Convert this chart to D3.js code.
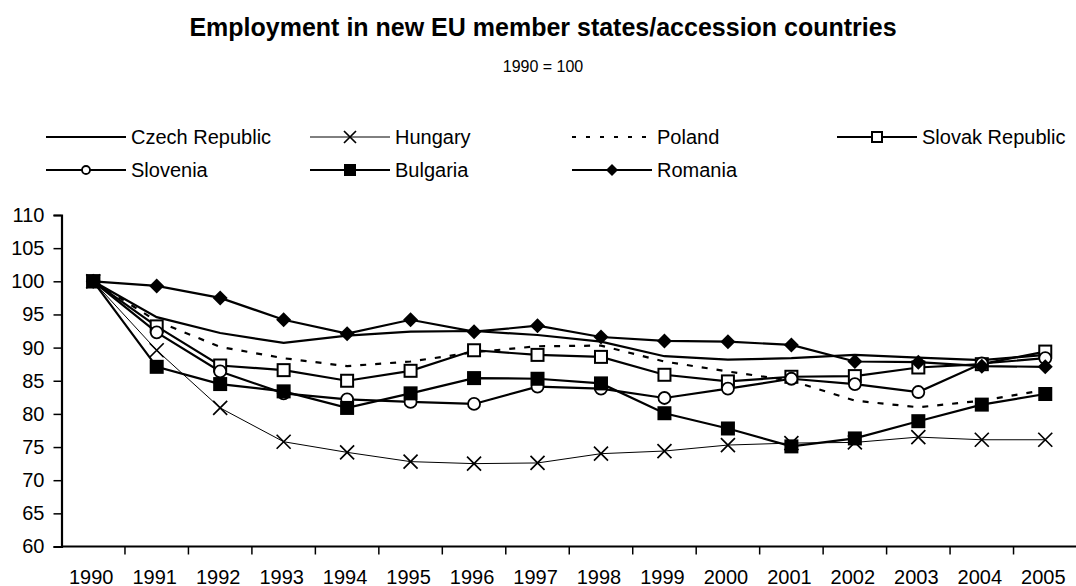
<!DOCTYPE html>
<html>
<head>
<meta charset="utf-8">
<script src="https://cdn.jsdelivr.net/npm/d3@7"></script>
<style>
  body { margin: 0; background: #fff; }
  svg { display: block; font-family: Arial, "Liberation Sans", sans-serif; }
</style>
</head>
<body>
<div id="chart"></div>
<script>
// 数据
var years = [1990, 1991, 1992, 1993, 1994, 1995, 1996, 1997, 1998, 1999, 2000, 2001, 2002, 2003, 2004, 2005]
var czech    = [100, 94.6, 92.2, 90.7, 91.8, 92.4, 92.5, 91.9, 90.9, 88.7, 88.2, 88.4, 88.9, 88.5, 88.1, 88.9]
var hungary  = [100, 89.6, 80.9, 75.8, 74.2, 72.8, 72.5, 72.6, 74.0, 74.4, 75.3, 75.6, 75.7, 76.5, 76.1, 76.1]
var poland   = [100, 94.0, 90.1, 88.4, 87.2, 87.9, 89.3, 90.2, 90.3, 87.9, 86.4, 85.0, 82.0, 81.0, 82.0, 83.6]
var slovak   = [100, 93.2, 87.3, 86.6, 85.0, 86.5, 89.6, 88.9, 88.6, 85.9, 84.9, 85.6, 85.7, 87.0, 87.5, 89.4]
var slovenia = [100, 92.3, 86.4, 83.1, 82.2, 81.8, 81.5, 84.1, 83.8, 82.4, 83.8, 85.3, 84.5, 83.3, 87.6, 88.4]
var bulgaria = [100, 87.1, 84.5, 83.4, 80.9, 83.1, 85.4, 85.3, 84.6, 80.1, 77.8, 75.1, 76.3, 78.9, 81.4, 83.0]
var romania  = [100, 99.3, 97.5, 94.2, 92.1, 94.2, 92.4, 93.3, 91.6, 91.0, 90.9, 90.4, 87.9, 87.8, 87.2, 87.1]
var yTicks = [60, 65, 70, 75, 80, 85, 90, 95, 100, 105, 110]

// 系列配置项
var series = [
  {name: 'Czech Republic', values: czech, width: 2.2, marker: 'none'},
  {name: 'Hungary', values: hungary, width: 1, marker: 'x'},
  {name: 'Poland', values: poland, width: 2.2, dash: '6,9', legendDash: '4,10', marker: 'none'},
  {name: 'Slovak Republic', values: slovak, width: 2.2, marker: 'square-open'},
  {name: 'Slovenia', values: slovenia, width: 2.2, marker: 'circle-open'},
  {name: 'Bulgaria', values: bulgaria, width: 2.2, marker: 'square'},
  {name: 'Romania', values: romania, width: 2.2, marker: 'diamond'}
]

var W = 1076, H = 586
var svg = d3.select('#chart').append('svg').attr('width', W).attr('height', H)

svg.append('text')
  .attr('x', 543).attr('y', 36)
  .attr('text-anchor', 'middle')
  .style('font-size', '25px').style('font-weight', 'bold')
  .text('Employment in new EU member states/accession countries')

svg.append('text')
  .attr('x', 543).attr('y', 72)
  .attr('text-anchor', 'middle')
  .style('font-size', '16px')
  .text('1990 = 100')

var x = d3.scaleBand().domain(years).range([61.5, 1077])
var y = d3.scaleLinear().domain([60, 110]).range([546.5, 215])

//y轴
var yAxis = svg.append('g')
  .attr('transform', 'translate(61.5,0)')
  .call(d3.axisLeft(y).tickValues(yTicks).tickSize(8).tickPadding(9))
yAxis.selectAll('text').style('font-size', '20px').attr('fill', '#000')
yAxis.selectAll('line').attr('stroke', '#000').attr('stroke-width', 1.5)
yAxis.select('.domain').attr('stroke', '#000').attr('stroke-width', 2.2)

//x轴，刻度在类目边界
var xAxis = svg.append('g').attr('transform', 'translate(0,546.5)')
xAxis.append('line')
  .attr('x1', 61.5).attr('x2', 1077)
  .attr('stroke', '#000').attr('stroke-width', 2.2)
xAxis.selectAll('.tk')
  .data(years)
  .enter()
  .append('line')
  .attr('class', 'tk')
  .attr('x1', function(d){ return x(d) + x.bandwidth() })
  .attr('x2', function(d){ return x(d) + x.bandwidth() })
  .attr('y1', 0).attr('y2', 8)
  .attr('stroke', '#000').attr('stroke-width', 1.5)
xAxis.selectAll('.lb')
  .data(years)
  .enter()
  .append('text')
  .attr('class', 'lb')
  .attr('x', function(d){ return x(d) + x.bandwidth() / 2 - 2 })
  .attr('y', 37)
  .attr('text-anchor', 'middle')
  .style('font-size', '20px')
  .text(function(d){ return d })

var cx = function(d, i){ return x(years[i]) + x.bandwidth() / 2 }

/**
 * 画标记点
 */
function drawMarker(g, type, size){
  var h = size / 2
  if(type == 'x'){
    g.append('path')
      .attr('d', 'M' + (-h) + ',' + (-h) + 'L' + h + ',' + h + 'M' + (-h) + ',' + h + 'L' + h + ',' + (-h))
      .attr('stroke', '#000').attr('stroke-width', 1.7).attr('fill', 'none')
  }else if(type == 'square' || type == 'square-open'){
    g.append('rect')
      .attr('x', -h + 1).attr('y', -h + 1).attr('width', size - 2).attr('height', size - 2)
      .attr('fill', type == 'square' ? '#000' : '#fff')
      .attr('stroke', '#000').attr('stroke-width', 2)
  }else if(type == 'circle-open'){
    g.append('circle')
      .attr('r', h - 1)
      .attr('fill', '#fff')
      .attr('stroke', '#000').attr('stroke-width', 1.8)
  }else if(type == 'diamond'){
    g.append('path')
      .attr('d', 'M0,' + (-h) + 'L' + h + ',0L0,' + h + 'L' + (-h) + ',0Z')
      .attr('fill', '#000')
  }
}

var line = d3.line()
  .x(cx)
  .y(function(d){ return y(d) })

series.forEach(function(s){
  var g = svg.append('g').attr('class', 'series')
  g.append('path')
    .datum(s.values)
    .attr('d', line)
    .attr('fill', 'none')
    .attr('stroke', '#000')
    .attr('stroke-width', s.width)
    .attr('stroke-dasharray', s.dash || null)
  if(s.marker != 'none'){
    g.selectAll('.mk')
      .data(s.values)
      .enter()
      .append('g')
      .attr('class', 'mk')
      .attr('transform', function(d, i){ return 'translate(' + cx(d, i) + ',' + y(d) + ')' })
      .each(function(){ drawMarker(d3.select(this), s.marker, s.marker == 'diamond' ? 15 : 14) })
  }
})

//图例
var legendPos = [[46, 137], [310, 137], [572, 137], [837, 137], [46, 170], [310, 170], [572, 170]]
var legend = svg.append('g').attr('class', 'legend')
series.forEach(function(s, i){
  var g = legend.append('g').attr('transform', 'translate(' + legendPos[i][0] + ',' + legendPos[i][1] + ')')
  g.append('line')
    .attr('x1', 0).attr('x2', 80).attr('y1', 0).attr('y2', 0)
    .attr('stroke', '#000')
    .attr('stroke-width', s.width)
    .attr('stroke-dasharray', s.legendDash || null)
  if(s.marker != 'none'){
    var m = g.append('g').attr('transform', 'translate(40,0)')
    drawMarker(m, s.marker, s.marker == 'circle-open' ? 10 : 12)
  }
  g.append('text')
    .attr('x', 85).attr('y', 7)
    .style('font-size', '20px')
    .text(s.name)
})
</script>
</body>
</html>
